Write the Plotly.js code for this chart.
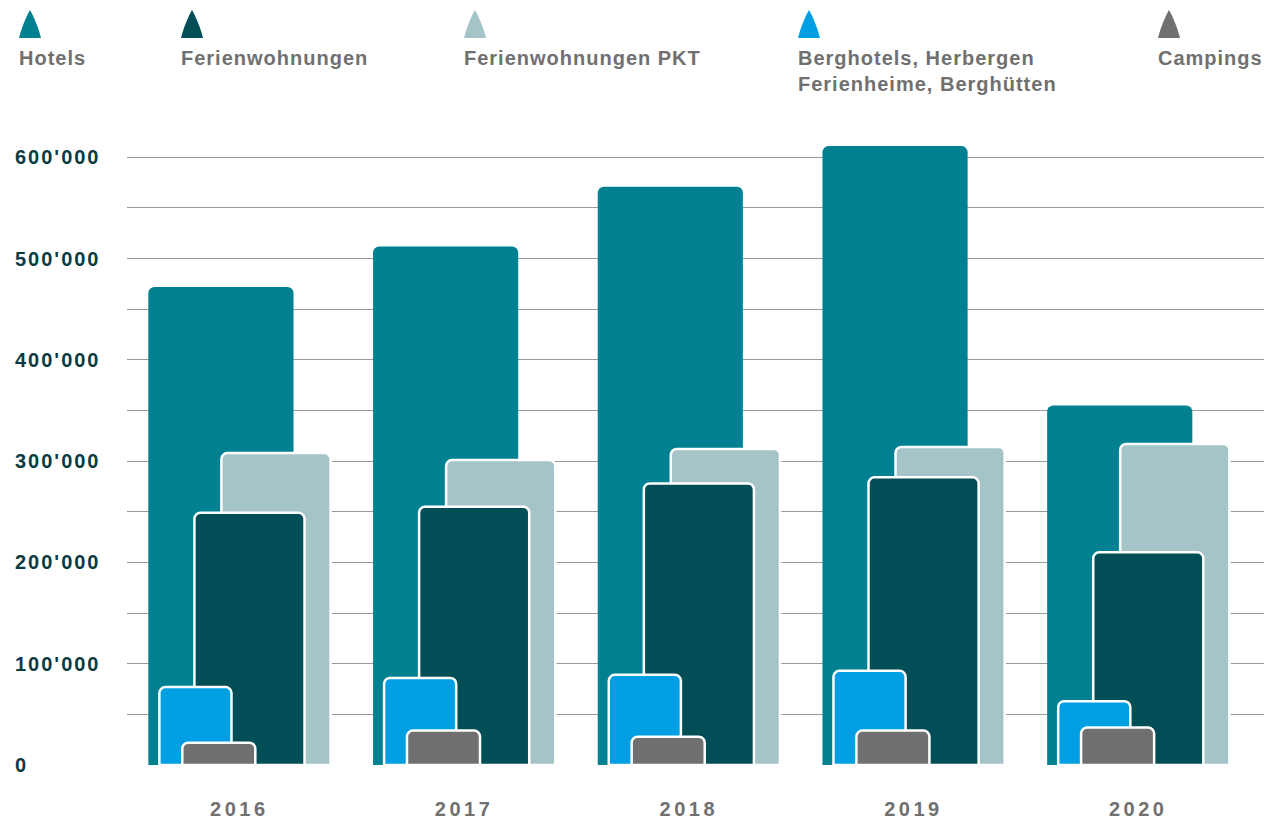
<!DOCTYPE html>
<html>
<head>
<meta charset="utf-8">
<script src="https://cdn.plot.ly/plotly-3.0.1.min.js"></script>
<style>
  html, body { margin: 0; padding: 0; background: #fff; }
  #chart { width: 1268px; height: 820px; }
  .xtick text { letter-spacing: 3.5px; }
  g.annotation text { letter-spacing: 1px; }
  g.annotation[data-index="5"] text, g.annotation[data-index="6"] text,
  g.annotation[data-index="7"] text, g.annotation[data-index="8"] text,
  g.annotation[data-index="9"] text, g.annotation[data-index="10"] text,
  g.annotation[data-index="11"] text { letter-spacing: 2px; }
</style>
</head>
<body>
<div id="chart"></div>
<script>
// ---- data ----
const years = ['2016', '2017', '2018', '2019', '2020'];
const seriesNames = ['Hotels', 'Ferienwohnungen', 'Ferienwohnungen PKT', 'Berghotels, Herbergen<br>Ferienheime, Berghütten', 'Campings'];
const hotels = [472000, 512000, 571000, 611000, 355000];
const ferienwohnungen = [249000, 255000, 278000, 284000, 210000];
const ferienwohnungenPKT = [308000, 301000, 312000, 314000, 317000];
const berghotels = [77000, 86000, 89000, 93000, 63000];
const campings = [22000, 34000, 28000, 34000, 37000];
const yTickVals = [0, 100000, 200000, 300000, 400000, 500000, 600000];
const yTickText = ['0', "100'000", "200'000", "300'000", "400'000", "500'000", "600'000"];
const gridVals = [0, 50000, 100000, 150000, 200000, 250000, 300000, 350000, 400000, 450000, 500000, 550000, 600000];

// ---- styles ----
const colors = ['#008191', '#024e57', '#a5c4c8', '#009fe3', '#707070'];
const values = [hotels, ferienwohnungen, ferienwohnungenPKT, berghotels, campings];
// draw order: back to front
const drawOrder = [0, 2, 1, 3, 4];
const barGeom = {
  0: {offset: -0.405, width: 0.646, line: 0},
  2: {offset: -0.080, width: 0.486, line: 2.5},
  1: {offset: -0.200, width: 0.490, line: 2.5},
  3: {offset: -0.356, width: 0.321, line: 2.5},
  4: {offset: -0.254, width: 0.325, line: 2.5}
};

const traces = drawOrder.map(i => ({
  type: 'bar',
  name: seriesNames[i],
  x: years,
  y: values[i],
  offset: barGeom[i].offset,
  width: barGeom[i].width,
  marker: {
    color: colors[i],
    cornerradius: 6,
    line: {color: '#ffffff', width: barGeom[i].line}
  },
  hoverinfo: 'skip'
}));

const L = 127, T = 137;
const legendX = [19, 181, 464, 798, 1158];
const annotations = [];
const shapes = [];
const FONT = 'Liberation Sans, Arial, sans-serif';

seriesNames.forEach((name, i) => {
  const lx = legendX[i] - L;
  const b = T - 38, t = T - 10, m = lx + 11;
  shapes.push({
    type: 'path', xref: 'paper', yref: 'paper',
    xsizemode: 'pixel', ysizemode: 'pixel',
    xanchor: 0, yanchor: 1,
    path: `M${lx},${b} C${lx+3},${b+12} ${m-3},${t-5} ${m},${t} C${m+3},${t-5} ${lx+19},${b+12} ${lx+22},${b} Z`,
    fillcolor: colors[i], line: {width: 0}
  });
  annotations.push({
    xref: 'paper', yref: 'paper', x: 0, y: 1,
    xshift: lx - 2, yshift: T - 45,
    xanchor: 'left', yanchor: 'top', align: 'left',
    showarrow: false, text: name,
    font: {family: FONT, size: 20, color: '#707070', weight: 'bold'}
  });
});

yTickVals.forEach((v, i) => {
  annotations.push({
    xref: 'paper', yref: 'y', x: 0, y: v,
    xshift: 15 - L - 2, xanchor: 'left', yanchor: 'middle', align: 'left',
    showarrow: false, text: yTickText[i],
    font: {family: FONT, size: 20, color: '#0b3b42', weight: 'bold'}
  });
});

const layout = {
  width: 1268, height: 820,
  margin: {l: L, r: 4, t: T, b: 55},
  paper_bgcolor: '#ffffff', plot_bgcolor: '#ffffff',
  barmode: 'overlay',
  showlegend: false,
  xaxis: {
    type: 'category',
    categoryarray: years,
    range: [-0.5, 4.56],
    showgrid: false, zeroline: false, showline: false,
    ticks: '',
    ticklabelstandoff: 30,
    tickfont: {family: FONT, size: 20, color: '#707070', weight: 'bold'},
    fixedrange: true
  },
  yaxis: {
    range: [0, 620000],
    tickvals: gridVals,
    showticklabels: false,
    showgrid: true, gridcolor: '#9a9a9a', gridwidth: 1,
    zeroline: true, zerolinecolor: 'rgba(0,0,0,0)',
    showline: false, ticks: '',
    fixedrange: true
  },
  shapes: shapes,
  annotations: annotations
};

Plotly.newPlot('chart', traces, layout, {displayModeBar: false, staticPlot: true});
</script>
</body>
</html>
